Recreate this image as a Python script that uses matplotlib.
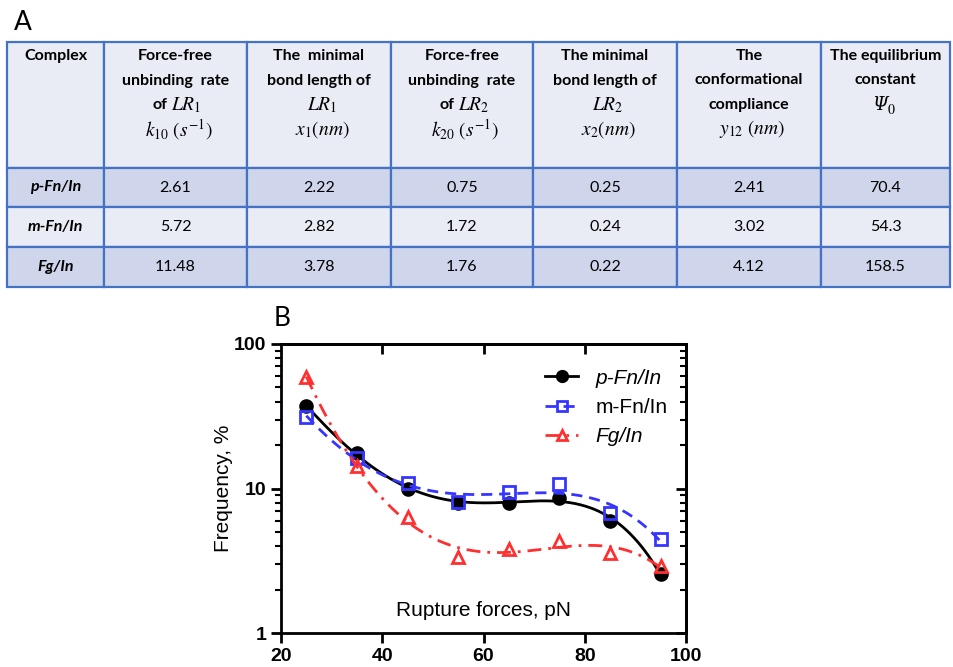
import numpy as np
import matplotlib.pyplot as plt
from matplotlib.patches import Rectangle
from matplotlib.ticker import LogLocator, NullFormatter

plt.rcParams['mathtext.fontset'] = 'stix'

# ---- table data (panel A) ----
headers = [
    ["Complex"],
    ["Force-free", "unbinding  rate", "of $LR_1$", r"$k_{10}\ (s^{-1})$"],
    ["The  minimal", "bond length of", "$LR_1$", r"$x_1(nm)$"],
    ["Force-free", "unbinding  rate", "of $LR_2$", r"$k_{20}\ (s^{-1})$"],
    ["The minimal", "bond length of", "$LR_2$", r"$x_2(nm)$"],
    ["The", "conformational", "compliance", r"$y_{12}\ (nm)$"],
    ["The equilibrium", "constant", "Ψ0"],
]
complexes = ["p-Fn/In", "m-Fn/In", "Fg/In"]
k10 = ["2.61", "5.72", "11.48"]
x1 = ["2.22", "2.82", "3.78"]
k20 = ["0.75", "1.72", "1.76"]
x2 = ["0.25", "0.24", "0.22"]
y12 = ["2.41", "3.02", "4.12"]
psi0 = ["70.4", "54.3", "158.5"]

# ---- rupture force data (panel B) ----
force = [25, 35, 45, 55, 65, 75, 85, 95]
p_fn = [37.2, 17.5, 10.0, 8.0, 8.0, 8.6, 6.0, 2.55]
m_fn = [31.4, 16.2, 11.0, 8.1, 9.4, 10.7, 6.8, 4.45]
fg = [58.9, 14.3, 6.3, 3.37, 3.8, 4.35, 3.56, 2.91]

fig = plt.figure(figsize=(9.54, 6.67), dpi=100)

# table drawn in pixel-like coordinates
tab = fig.add_axes([0, 0, 1, 1])
tab.set_xlim(0, 954)
tab.set_ylim(667, 0)
tab.axis('off')

col_x = [7, 104, 247, 391, 533, 677, 821, 950]
row_y = [42, 168, 207, 247, 287]
light = '#E9EBF5'
dark = '#CFD5EA'
edge = '#4472C4'
row_colors = [light, dark, light, dark]
tfont = 'Lato'
mathsize = 14

for r in range(4):
    for c in range(7):
        tab.add_patch(Rectangle((col_x[c], row_y[r]), col_x[c + 1] - col_x[c],
                                row_y[r + 1] - row_y[r], facecolor=row_colors[r],
                                edgecolor=edge, lw=1.6))

for c, lines in enumerate(headers):
    xc = (col_x[c] + col_x[c + 1]) / 2
    for i, line in enumerate(lines):
        y = 56 + i * 24.5
        if line == "Ψ0":
            # italic capital psi with subscript zero
            tab.text(xc + 2, y, "Ψ", ha='right', va='center', fontsize=13,
                     style='italic', family='DejaVu Serif')
            tab.text(xc + 2, y + 5, "0", ha='left', va='center', fontsize=10,
                     family='STIXGeneral')
        elif line.startswith('$'):
            tab.text(xc + 3, y, line, ha='center', va='center', fontsize=mathsize)
        elif '$' in line:
            word, math = line.split(' ', 1)
            tab.text(xc - 8, y, word, ha='right', va='center', fontsize=11.5,
                     fontweight='bold', family=tfont)
            tab.text(xc - 4, y, math, ha='left', va='center', fontsize=mathsize)
        else:
            tab.text(xc, y, line, ha='center', va='center', fontsize=11.5,
                     fontweight='bold', family=tfont)

columns = [k10, x1, k20, x2, y12, psi0]
for r, name in enumerate(complexes):
    yc = (row_y[r + 1] + row_y[r + 2]) / 2
    tab.text((col_x[0] + col_x[1]) / 2, yc, name, ha='center', va='center',
             fontsize=11.5, fontweight='bold', style='italic', family=tfont)
    for c, vals in enumerate(columns):
        tab.text((col_x[c + 1] + col_x[c + 2]) / 2, yc, vals[r], ha='center',
                 va='center', fontsize=11.5, family=tfont)

tab.text(14, 22, "A", fontsize=19, family=tfont, va='center', ha='left')
tab.text(274, 318, "B", fontsize=19, family=tfont, va='center', ha='left')

# ---- panel B ----
ax = fig.add_axes([281 / 954, 34 / 667, 405 / 954, 289 / 667])
ax.set_yscale('log')
ax.set_xlim(20, 100)
ax.set_ylim(1, 100)

f = np.array(force, dtype=float)
xs = np.linspace(25, 95, 200)
series = [
    (p_fn, 'black', '-', 'o', 'black'),
    (m_fn, '#3535FF', (0, (4, 2.5)), 's', 'none'),
    (fg, '#FF2F2F', (0, (5, 2.5, 1, 2.5)), '^', 'none'),
]
handles = []
for vals, col, ls, mk, mfc in series:
    coef = np.polyfit(f, np.log10(vals), 4)
    ax.plot(xs, 10 ** np.polyval(coef, xs), color=col, ls=ls, lw=2)
    ax.plot(f, vals, ls='none', marker=mk, ms=9 if mk != 'o' else 8.5,
            mfc=mfc, mec=col, mew=2, color=col)
    h, = ax.plot([], [], color=col, ls=ls, lw=2, marker=mk, mfc=mfc, mec=col,
                 mew=2, ms=7.5)
    handles.append(h)

leg = ax.legend(handles, ['p-Fn/In', 'm-Fn/In', 'Fg/In'], loc='upper right',
                bbox_to_anchor=(1.0, 0.98), frameon=False, handlelength=1.6,
                handletextpad=0.8, labelspacing=0.5, borderaxespad=0.5,
                prop={'family': 'Liberation Sans', 'size': 15})
leg.get_texts()[0].set_style('italic')
leg.get_texts()[2].set_style('italic')

for s in ax.spines.values():
    s.set_linewidth(2)
ax.set_xticks([20, 40, 60, 80, 100])
ax.set_yticks([1, 10, 100])
ax.set_yticklabels(['1', '10', '100'])
ax.yaxis.set_minor_locator(LogLocator(base=10, subs=np.arange(2, 10)))
ax.yaxis.set_minor_formatter(NullFormatter())
ax.tick_params(which='major', direction='out', length=7, width=2, labelsize=14)
ax.tick_params(which='minor', direction='out', length=4, width=1.5)
for lab in ax.get_xticklabels() + ax.get_yticklabels():
    lab.set_fontweight('bold')
    lab.set_family('Liberation Sans')

top = ax.secondary_xaxis('top')
top.set_xticks([40, 60, 80])
top.tick_params(direction='in', length=7, width=2, labeltop=False)
top.spines['top'].set_linewidth(2)
right = ax.secondary_yaxis('right')
right.set_yticks([1, 10, 100])
right.yaxis.set_minor_locator(LogLocator(base=10, subs=np.arange(2, 10)))
right.yaxis.set_minor_formatter(NullFormatter())
right.tick_params(which='major', direction='in', length=7, width=2, labelright=False)
right.tick_params(which='minor', direction='in', length=4, width=1.5)
right.spines['right'].set_linewidth(2)

ax.set_ylabel('Frequency, %', fontsize=15, family='Liberation Sans')
ax.yaxis.set_label_coords(-0.118, 0.5)
ax.text(0.5, 0.045, 'Rupture forces, pN', transform=ax.transAxes, ha='center',
        va='bottom', fontsize=15, family='Liberation Sans')

fig.savefig('out.png', dpi=100)
